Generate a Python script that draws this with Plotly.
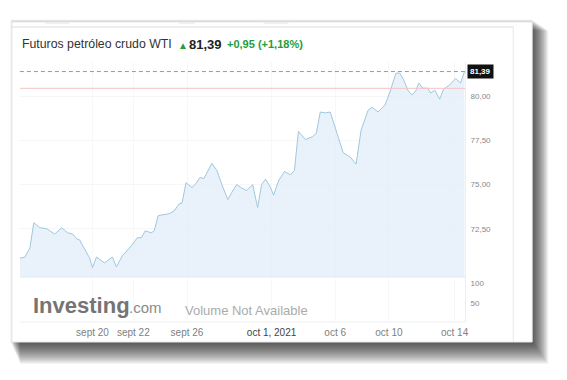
import plotly.graph_objects as go

# ---- data ----
bar_index = [0, 2, 5, 10, 14, 20, 27, 35, 42, 48, 53, 57, 60, 65, 70, 73, 77, 85, 93, 97,
             103, 112, 118, 122, 126, 132, 135, 139, 147, 150, 155, 160, 163, 167, 173, 177,
             181, 185, 193, 198, 203, 209, 213, 218, 223, 228, 234, 239, 243, 247, 252, 255,
             260, 266, 272, 276, 280, 287, 294, 298, 302, 307, 312, 318, 325, 332, 338, 343,
             350, 354, 360, 367, 372, 378, 382, 386, 390, 394, 398, 401, 405, 410, 413, 417,
             422, 426, 432, 438, 443, 447]
price = [70.85, 70.85, 70.9, 71.4, 72.84, 72.56, 72.5, 72.2, 72.55, 72.27, 72.2, 71.93, 71.87,
         71.4, 70.85, 70.3, 70.9, 70.57, 70.9, 70.34, 70.97, 71.53, 71.99, 71.99, 72.38, 72.27,
         72.38, 73.24, 73.3, 73.35, 73.5, 73.9, 73.95, 75.1, 74.83, 75.05, 75.4, 75.34, 76.2,
         75.8, 75.0, 74.15, 74.55, 75.0, 74.8, 74.66, 75.0, 73.7, 75.0, 75.3, 74.83, 74.4, 75.2,
         75.74, 75.55, 75.8, 78.0, 77.55, 77.7, 77.9, 79.1, 79.05, 79.1, 78.07, 76.8, 76.56,
         76.16, 78.07, 79.2, 79.37, 79.1, 79.5, 80.23, 81.3, 81.3, 80.9, 80.34, 80.06, 80.3,
         80.74, 80.45, 80.45, 80.17, 80.34, 79.83, 80.4, 80.63, 81.0, 80.74, 81.39]
last_price = 81.39
prev_close = 80.44
x_tick_pos = [73, 114, 168, 253, 317, 371, 437]
x_tick_labels = ["sept 20", "sept 22", "sept 26", "oct 1, 2021", "oct 6", "oct 10", "oct 14"]
price_ticks = [72.5, 75.0, 77.5, 80.0]
volume_ticks = [50, 100]
title_text = "Futuros petróleo crudo WTI"
change_text = "+0,95 (+1,18%)"

W, H = 567, 380
def px(x):
    return x / W
def py(y):
    return 1 - y / H

FONT = "Arial, Liberation Sans, sans-serif"
GREEN = "#1f9e3a"

fig = go.Figure()
fig.add_trace(go.Scatter(
    x=bar_index, y=price, mode="lines", fill="tozeroy",
    line=dict(color="#9fc7de", width=1), fillcolor="rgba(226,238,248,0.75)",
    xaxis="x", yaxis="y", hoverinfo="skip", showlegend=False))
fig.add_trace(go.Scatter(x=[], y=[], xaxis="x", yaxis="y2", showlegend=False))

shapes = []
# soft drop shadow of the card
for k in range(1, 24):
    shapes.append(dict(type="rect", xref="paper", yref="paper", layer="below",
                       x0=px(10 + k * 0.45), x1=px(534 + k * 0.75),
                       y0=py(341 + k * 1.0), y1=py(19 + k * 0.5),
                       fillcolor="rgba(0,0,0,0.045)", line=dict(width=0)))
# card
shapes.append(dict(type="rect", xref="paper", yref="paper", layer="below",
                   x0=px(12), x1=px(535), y0=py(342), y1=py(22),
                   fillcolor="white", line=dict(color="#e8e8e8", width=1)))
shapes.append(dict(type="line", xref="paper", yref="paper", layer="below",
                   x0=px(12), x1=px(516), y0=py(27), y1=py(27),
                   line=dict(color="#dcdcdc", width=1)))
for a, b in [(45, 70), (180, 196), (265, 290)]:
    shapes.append(dict(type="line", xref="paper", yref="paper", layer="below",
                       x0=px(a), x1=px(b), y0=py(23), y1=py(23),
                       line=dict(color="#e4e4e4", width=1)))
shapes.append(dict(type="line", xref="paper", yref="paper", layer="below",
                   x0=px(516), x1=px(516), y0=py(27), y1=py(342),
                   line=dict(color="#e8e8e8", width=1)))
# panel borders
shapes.append(dict(type="line", xref="paper", yref="paper", layer="below",
                   x0=px(468), x1=px(468), y0=py(62), y1=py(322),
                   line=dict(color="#eeeeee", width=1)))
shapes.append(dict(type="line", xref="paper", yref="paper", layer="below",
                   x0=px(20), x1=px(468), y0=py(277), y1=py(277),
                   line=dict(color="#e9eef3", width=1.5)))
shapes.append(dict(type="line", xref="paper", yref="paper", layer="below",
                   x0=px(20), x1=px(468), y0=py(322), y1=py(322),
                   line=dict(color="#eeeeee", width=1)))
# previous close and last price lines
shapes.append(dict(type="line", xref="x domain", yref="y", layer="above",
                   x0=0, x1=1, y0=prev_close, y1=prev_close,
                   line=dict(color="#f3c4c4", width=1)))
shapes.append(dict(type="line", xref="x domain", yref="y", layer="above",
                   x0=0, x1=1, y0=last_price, y1=last_price,
                   line=dict(color="#9a9a9a", width=1, dash="4px,3px")))

annotations = [
    dict(text=title_text, x=px(20), y=py(44), xref="paper", yref="paper",
         xanchor="left", yanchor="middle", showarrow=False,
         font=dict(family=FONT, size=12.3, color="#333333")),
    dict(text="▲", x=px(177), y=py(45), xref="paper", yref="paper",
         xanchor="left", yanchor="middle", showarrow=False,
         font=dict(family=FONT, size=10, color=GREEN)),
    dict(text="<b>81,39</b>", x=px(188), y=py(44), xref="paper", yref="paper",
         xanchor="left", yanchor="middle", showarrow=False,
         font=dict(family=FONT, size=13, color="#222222")),
    dict(text="<b>" + change_text + "</b>", x=px(226), y=py(44), xref="paper", yref="paper",
         xanchor="left", yanchor="middle", showarrow=False,
         font=dict(family=FONT, size=11, color=GREEN)),
    dict(text="<b>81,39</b>", x=px(469), y=last_price, xref="paper", yref="y",
         xanchor="left", yanchor="middle", showarrow=False, bgcolor="#111111",
         borderpad=2, font=dict(family=FONT, size=8, color="white")),
    dict(text="<b>Investing</b>", x=px(31), y=py(305), xref="paper", yref="paper",
         xanchor="left", yanchor="middle", showarrow=False,
         font=dict(family=FONT, size=22, color="#747474")),
    dict(text=".com", x=px(128), y=py(307), xref="paper", yref="paper",
         xanchor="left", yanchor="middle", showarrow=False,
         font=dict(family=FONT, size=15, color="#8a8a8a")),
    dict(text="Volume Not Available", x=px(184), y=py(310), xref="paper", yref="paper",
         xanchor="left", yanchor="middle", showarrow=False,
         font=dict(family=FONT, size=13, color="#ababab")),
]

tick_text = [("<span style='color:#444'>%s</span>" % t) if "2021" in t else t
             for t in x_tick_labels]

fig.update_layout(
    width=W, height=H, margin=dict(l=0, r=0, t=0, b=0),
    paper_bgcolor="white", plot_bgcolor="rgba(0,0,0,0)",
    separators=",.", showlegend=False,
    shapes=shapes, annotations=annotations,
    xaxis=dict(domain=[px(20), px(468)], anchor="y2", range=[0, 448],
               tickmode="array", tickvals=x_tick_pos, ticktext=tick_text,
               showgrid=True, gridcolor="#f7f7f7", zeroline=False, showline=False,
               ticks="", ticklabelstandoff=3,
               tickfont=dict(family=FONT, size=10, color="#808080")),
    yaxis=dict(domain=[py(277), py(62)], anchor="x", side="right",
               range=[69.77, 81.93], tickmode="array", tickvals=price_ticks,
               tickformat=".2f", showgrid=True, gridcolor="#f6f6f6",
               zeroline=False, showline=False, ticks="", ticklabelstandoff=4,
               tickfont=dict(family=FONT, size=8, color="#888888")),
    yaxis2=dict(domain=[py(322), py(279)], anchor="x", side="right",
                range=[0, 112], tickmode="array", tickvals=volume_ticks,
                tickformat="d", showgrid=False, zeroline=False, showline=False,
                ticks="", ticklabelstandoff=4,
                tickfont=dict(family=FONT, size=8, color="#888888")),
)

fig.write_html("out.html")
